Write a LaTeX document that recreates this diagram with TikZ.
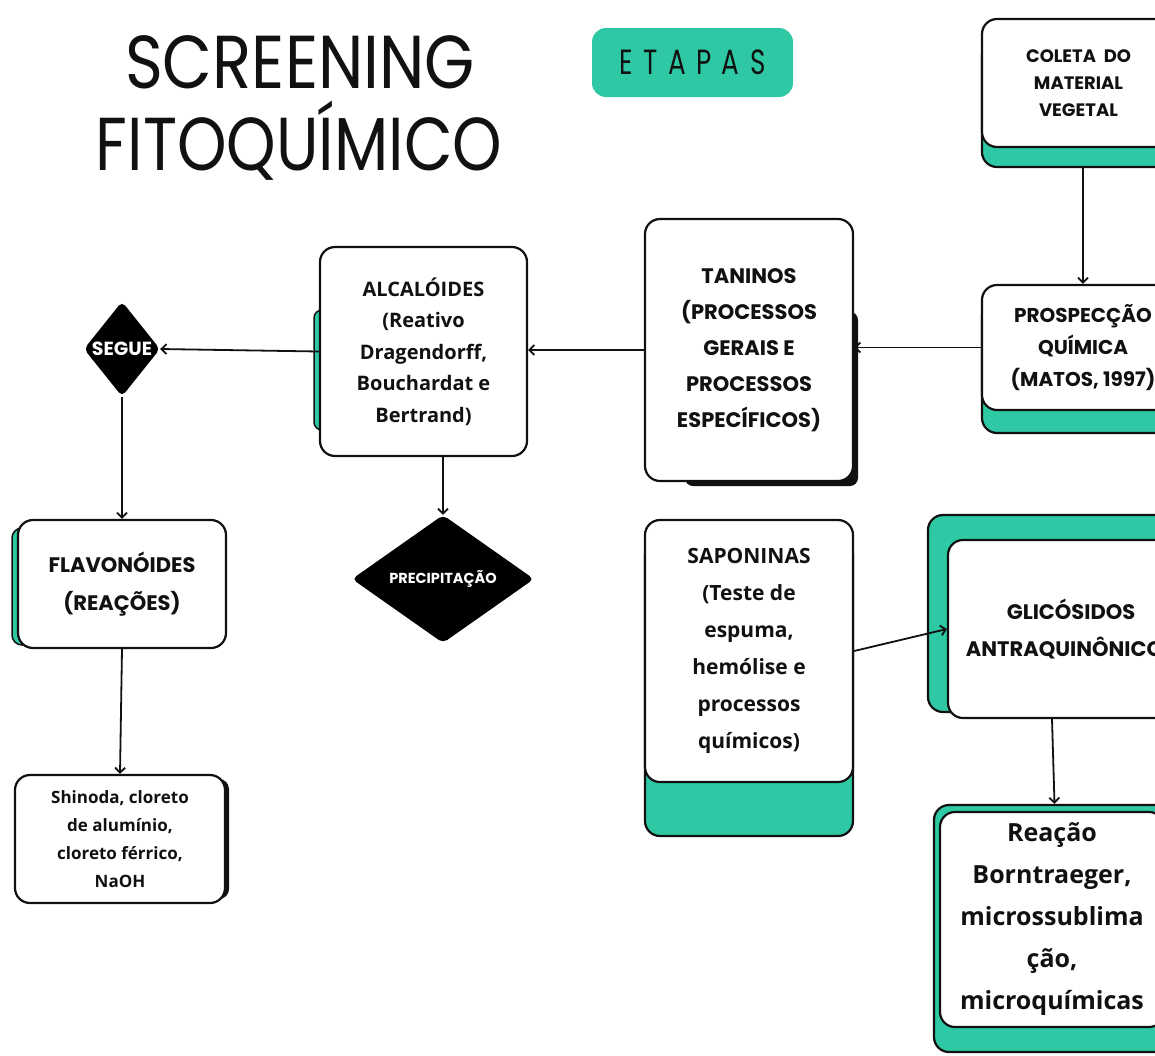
\documentclass[tikz,border=0pt]{standalone}
\usepackage{fontspec}
\usepackage{graphicx}
\setmainfont{Poppins}
\newfontfamily\lcf{Open Sans}
\usetikzlibrary{shapes.geometric,arrows.meta}
\definecolor{teal1}{HTML}{2EC9A4}
\definecolor{ink}{HTML}{111111}
\newcommand\myfs[2]{\fontsize{#1}{#2}\selectfont}
\begin{document}
\begin{tikzpicture}[x=1pt,y=-1pt,
  wbox/.style={draw=ink, line width=2.2pt, rounded corners=15pt, fill=white, align=center, inner sep=0pt, text=ink},
  tbox/.style={draw=ink, line width=2.2pt, rounded corners=15pt, fill=teal1, inner sep=0pt},
  arr/.style={draw=ink, line width=1.8pt, -{Straight Barb[length=5pt,width=10pt]}},
  dia/.style={diamond, fill=black, inner sep=0pt, text=white, rounded corners=5pt}]
\useasboundingbox (0,0) rectangle (1155,1055);
\fill[white] (0,0) rectangle (1155,1055);
\clip (0,0) rectangle (1155,1055);

% title
\node[anchor=base, text=ink, inner sep=0pt] (t1) at (300,88) {\myfs{75}{75}\scalebox{0.86}[1]{SCREENING}};
\node[anchor=base, text=ink, inner sep=0pt] (t2) at (299,170) {\myfs{75}{75}\scalebox{0.84}[1]{FITOQUÍMICO}};

% etapas
\node[fill=teal1, rounded corners=14pt, minimum width=201, minimum height=69, inner sep=0pt, text=ink] (etapas) at (692.5,62.5)
  {\myfs{35}{35}\scalebox{0.75}[1]{\addfontfeature{LetterSpace=40}ETAPAS}};

% coleta
\node[tbox, minimum width=193, minimum height=127] (coletaS) at (1078.5,103.5) {};
\node[wbox, minimum width=193, minimum height=128, font=\myfs{18}{27}\bfseries] (coleta) at (1078.5,83) {COLETA\ \ DO\\MATERIAL\\VEGETAL};

% prospeccao
\node[tbox, minimum width=202, minimum height=133] (prospS) at (1083,366.5) {};
\node[wbox, minimum width=202, minimum height=125, font=\myfs{20}{32}\bfseries] (prosp) at (1083,347.5) {PROSPECÇÃO\\QUÍMICA\\(MATOS, 1997)};

% taninos
\fill[ink, rounded corners=8pt] (685,312) rectangle (858,486);
\node[wbox, minimum width=208, minimum height=262, font=\myfs{21}{36}\bfseries] (tan) at (749,350) {TANINOS\\(PROCESSOS\\GERAIS E\\PROCESSOS\\ESPECÍFICOS)};

% alcaloides
\filldraw[fill=teal1, draw=ink, line width=1.5pt, rounded corners=8pt] (314,310) rectangle (340,430);
\node[wbox, minimum width=207, minimum height=209, font=\lcf\myfs{20}{31.5}\bfseries] (alca) at (423.5,351.5) {ALCALÓIDES\\(Reativo\\Dragendorff,\\Bouchardat e\\Bertrand)};

% segue
\node[dia, minimum width=76, minimum height=95, font=\myfs{19}{19}\bfseries] (segue) at (122,349) {SEGUE};

% flavonoides
\filldraw[fill=teal1, draw=ink, line width=1.5pt, rounded corners=10pt] (12,528) rectangle (40,645);
\node[wbox, minimum width=208, minimum height=128, font=\myfs{21}{38}\bfseries] (flav) at (122,584) {FLAVONÓIDES\\(REAÇÕES)};

% shinoda
\fill[ink, rounded corners=10pt] (200,779) rectangle (229,899);
\node[wbox, minimum width=210, minimum height=128, font=\lcf\myfs{17}{28}\bfseries] (shin) at (120,839) {Shinoda, cloreto\\de alumínio,\\cloreto férrico,\\NaOH};

% precipitacao
\node[dia, minimum width=182, minimum height=128, font=\myfs{14.5}{14.5}\bfseries] (prec) at (443,579) {PRECIPITAÇÃO};

% saponinas
\node[tbox, minimum width=208, minimum height=296] (sapoS) at (749,688) {};
\node[wbox, minimum width=208, minimum height=262, font=\lcf\myfs{21}{37}\bfseries] (sapo) at (749,651) {SAPONINAS\\(Teste de\\espuma,\\hemólise e\\processos\\químicos)};

% glicosidos
\node[tbox, minimum width=262, minimum height=197] (glicS) at (1059,613.5) {};
\node[wbox, minimum width=246, minimum height=178, font=\myfs{21}{36}\bfseries] (glic) at (1071,629) {GLICÓSIDOS\\ANTRAQUINÔNICOS};

% reacao
\node[tbox, minimum width=241, minimum height=247] (reacS) at (1054.5,928.5) {};
\node[wbox, minimum width=224, minimum height=215, font=\lcf\myfs{25}{42}\bfseries] (reac) at (1052,919.5) {Reação\\Borntraeger,\\microssublima\\ção,\\microquímicas};

% connectors
\draw[arr] (coletaS.south -| prosp.north) -- (prosp.north);
\draw[arr] (prosp.west) -- (prosp.west -| tan.east);
\draw[arr] (tan.west) -- (tan.west -| alca.east);
\draw[arr] (alca.west) -- (segue.east);
\draw[arr] (segue.south) -- (flav.north);
\draw[arr] (flav.south) -- (shin.north);
\draw[arr] (alca.south -| prec.north) -- (prec.north);
\draw[arr] (sapo.east) -- (glic.west);
\draw[arr] (glic.south -| reac.north) -- (reacS.north);
\end{tikzpicture}
\end{document}
